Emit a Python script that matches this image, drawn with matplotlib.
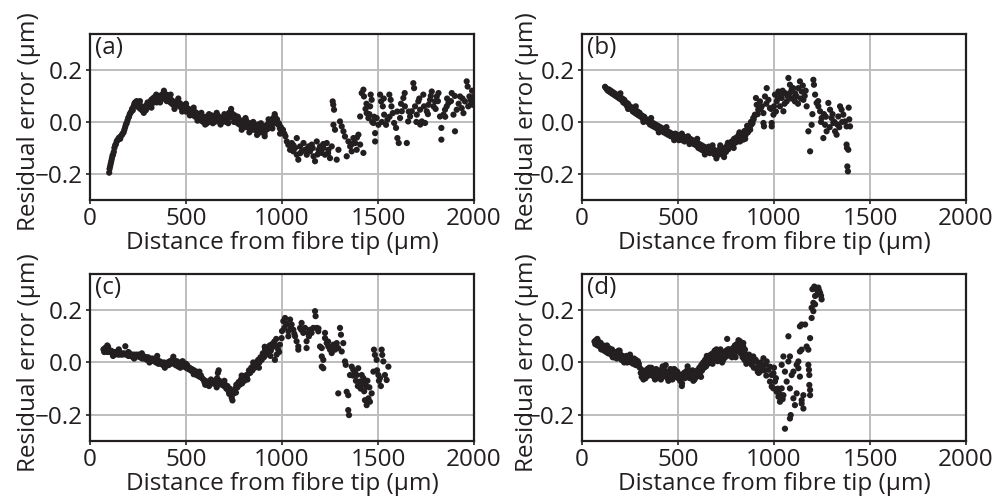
import numpy as np
import matplotlib
matplotlib.use("Agg")
import matplotlib.pyplot as plt

# residual error (um) vs distance from fibre tip (um)
pts_a = [
    (100, -0.195), (102, -0.18), (105, -0.17), (108, -0.16), (111, -0.15), (114, -0.14), (117, -0.13),
    (120, -0.125), (124, -0.115), (127, -0.10), (131, -0.09), (135, -0.085), (139, -0.075), (143, -0.07),
    (148, -0.065), (152, -0.06), (157, -0.065), (161, -0.055), (166, -0.05), (170, -0.045), (175, -0.04),
    (179, -0.03), (183, -0.02), (187, -0.01), (191, -0.005), (195, 0.005), (199, 0.015), (203, 0.02),
    (207, 0.03), (211, 0.035), (215, 0.04), (219, 0.05), (223, 0.045), (227, 0.06), (231, 0.07),
    (235, 0.075), (239, 0.065), (243, 0.08), (247, 0.06), (251, 0.07), (255, 0.055), (259, 0.065),
    (263, 0.05), (267, 0.06), (271, 0.045), (275, 0.055), (279, 0.04), (283, 0.05), (287, 0.06),
    (291, 0.045), (295, 0.065), (299, 0.055), (303, 0.07), (307, 0.06), (311, 0.075), (315, 0.065),
    (319, 0.085), (323, 0.07), (327, 0.09), (331, 0.08), (335, 0.095), (339, 0.08), (343, 0.09),
    (347, 0.075), (351, 0.095), (355, 0.085), (359, 0.10), (363, 0.085), (367, 0.10), (371, 0.09),
    (375, 0.105), (379, 0.095), (383, 0.11), (387, 0.095), (391, 0.10), (395, 0.085), (399, 0.105),
    (403, 0.09), (407, 0.095), (411, 0.08), (415, 0.09), (419, 0.075), (423, 0.085), (427, 0.07),
    (431, 0.08), (435, 0.065), (439, 0.075), (443, 0.06), (447, 0.07), (451, 0.065), (455, 0.08),
    (459, 0.07), (463, 0.075), (467, 0.06), (471, 0.07), (475, 0.055), (479, 0.065), (483, 0.05),
    (487, 0.06), (491, 0.045), (495, 0.055), (499, 0.04), (504, 0.055), (509, 0.04), (514, 0.05),
    (519, 0.035), (524, 0.045), (529, 0.03), (534, 0.045), (539, 0.025), (544, 0.04), (549, 0.02),
    (554, 0.035), (559, 0.015), (564, 0.03), (569, 0.01), (574, 0.025), (579, 0.005), (584, 0.02),
    (589, 0.0), (594, 0.015), (599, 0.005), (604, 0.02), (609, -0.005), (614, 0.015), (619, 0.0),
    (624, 0.02), (629, 0.005), (634, 0.025), (639, 0.01), (644, 0.02), (649, 0.0), (654, 0.02),
    (659, 0.005), (664, 0.025), (669, 0.01), (674, 0.02), (679, -0.005), (684, 0.015), (689, 0.0),
    (694, 0.015), (699, 0.005), (704, 0.02), (709, 0.0), (714, 0.025), (719, 0.01), (724, 0.035),
    (729, 0.02), (734, 0.04), (739, 0.025), (744, 0.03), (749, 0.015), (754, 0.025), (759, 0.005),
    (764, 0.02), (769, -0.005), (774, 0.01), (779, -0.01), (784, 0.005), (789, -0.015), (794, 0.005),
    (799, -0.01), (804, 0.0), (809, -0.02), (814, 0.005), (819, -0.015), (824, -0.005), (829, -0.025),
    (834, -0.005), (839, -0.02), (844, -0.01), (849, -0.03), (854, -0.01), (859, -0.025), (864, -0.015),
    (869, -0.035), (874, -0.01), (879, -0.03), (884, -0.02), (889, -0.04), (894, -0.02), (899, -0.035),
    (904, -0.025), (909, -0.045), (914, -0.015), (919, -0.03), (924, -0.01), (929, -0.025), (934, 0.0),
    (939, -0.015), (944, 0.005), (949, -0.01), (954, 0.015), (959, 0.0), (964, 0.02), (969, 0.005),
    (974, 0.01), (979, -0.01), (984, -0.005), (989, -0.025), (994, -0.02), (999, -0.04),
    (260, 0.08), (280, 0.035), (300, 0.075), (320, 0.055), (345, 0.105), (365, 0.075), (385, 0.12),
    (400, 0.08), (420, 0.105), (440, 0.05), (460, 0.09), (480, 0.04), (500, 0.07), (520, 0.025),
    (540, 0.055), (560, 0.005), (580, 0.035), (600, -0.01), (620, 0.03), (640, -0.005), (660, 0.035),
    (680, -0.01), (700, 0.03), (720, -0.005), (735, 0.05), (750, 0.0), (770, 0.02), (790, -0.03),
    (810, 0.015), (830, -0.04), (850, 0.0), (870, -0.05), (890, -0.005), (910, -0.055), (930, 0.01),
    (950, -0.025), (962, 0.03), (990, -0.045),
    (1005, -0.03), (1012, -0.045), (1018, -0.055), (1025, -0.075),
    (1033, -0.088), (1042, -0.107), (1051, -0.081), (1059, -0.113), (1068, -0.10), (1077, -0.062),
    (1077, -0.126), (1085, -0.145), (1094, -0.094), (1103, -0.113), (1112, -0.081), (1120, -0.107),
    (1129, -0.126), (1138, -0.094), (1146, -0.113), (1155, -0.087), (1164, -0.132), (1172, -0.151),
    (1181, -0.075), (1190, -0.107), (1198, -0.094), (1207, -0.119), (1216, -0.10), (1224, -0.126),
    (1233, -0.081), (1242, -0.107), (1250, -0.139), (1259, -0.094), (1264, 0.079), (1267, 0.066),
    (1271, 0.047), (1268, -0.011), (1276, -0.03), (1285, -0.145), (1294, -0.107), (1302, 0.002),
    (1311, -0.017), (1320, -0.036), (1328, -0.056), (1337, -0.132), (1346, -0.075), (1355, -0.094),
    (1363, -0.113), (1372, -0.062), (1381, -0.081), (1389, -0.107), (1398, -0.049), (1407, -0.087),
    (1424, -0.119), (1407, 0.021), (1415, 0.111), (1424, 0.124), (1427, 0.098), (1441, 0.034),
    (1450, 0.015), (1459, 0.06), (1462, 0.105), (1467, 0.085), (1476, -0.004), (1485, -0.043),
    (1485, -0.075), (1493, 0.015), (1502, -0.011), (1511, 0.105), (1516, 0.079), (1525, 0.06),
    (1532, 0.028), (1542, -0.011), (1549, 0.009), (1559, 0.105), (1566, 0.085), (1577, 0.034),
    (1584, -0.004), (1594, -0.023), (1601, -0.062), (1608, -0.081), (1615, 0.015), (1624, 0.041),
    (1632, 0.092), (1639, 0.111), (1650, -0.081), (1657, 0.002), (1667, 0.021), (1676, 0.041),
    (1684, 0.149), (1688, 0.13), (1693, 0.06), (1702, 0.028), (1710, 0.079), (1719, 0.047),
    (1728, 0.002), (1736, 0.105), (1745, -0.004), (1754, 0.041), (1763, 0.066), (1771, 0.085),
    (1780, 0.117), (1789, 0.06), (1797, 0.079), (1806, 0.098), (1815, 0.111), (1823, 0.021),
    (1830, -0.023), (1830, -0.068), (1841, 0.028), (1849, 0.047), (1858, 0.06), (1867, 0.073),
    (1884, 0.111), (1893, 0.028), (1901, -0.036), (1910, 0.047), (1927, 0.098), (1936, 0.053),
    (1945, 0.034), (1953, 0.079), (1962, 0.156), (1967, 0.136), (1976, 0.098), (1983, 0.085),
    (1993, 0.066), (1999, 0.098), (1520, 0.0), (1560, 0.02), (1600, 0.04), (1640, 0.06),
    (1700, 0.0), (1720, -0.01), (1760, 0.03), (1800, 0.05), (1850, 0.02), (1880, 0.08),
    (1920, 0.07), (1970, 0.06), (1990, 0.12), (1440, 0.07), (1455, 0.03), (1470, 0.0),
    (1060, -0.09), (1095, -0.12), (1130, -0.105), (1160, -0.1), (1185, -0.125), (1215, -0.085),
    (1240, -0.12), (1365, -0.085), (1390, -0.06), (1435, 0.05), (1480, 0.02), (1530, 0.09),
    (1570, 0.06), (1620, 0.07), (1660, 0.04), (1715, 0.09), (1740, 0.06), (1775, 0.1), (1812, 0.08),
    (1860, 0.09), (1900, 0.1), (1940, 0.09), (1985, 0.07),
]

pts_b = [
    (120, 0.135), (125, 0.13), (130, 0.125), (135, 0.12), (140, 0.125), (145, 0.115), (150, 0.12),
    (155, 0.11), (160, 0.115), (165, 0.105), (170, 0.11), (175, 0.10), (180, 0.105), (185, 0.095),
    (190, 0.10), (195, 0.09), (200, 0.095), (205, 0.085), (210, 0.09), (215, 0.075), (220, 0.085),
    (225, 0.07), (230, 0.075), (235, 0.06), (240, 0.07), (245, 0.055), (250, 0.06), (255, 0.05),
    (260, 0.055), (265, 0.04), (270, 0.05), (275, 0.035), (280, 0.045), (285, 0.03), (290, 0.04),
    (295, 0.025), (300, 0.035), (306, 0.02), (312, 0.025), (318, 0.01), (324, 0.02), (330, 0.005),
    (336, 0.01), (342, 0.0), (348, 0.005), (354, -0.01), (360, 0.0), (366, -0.015), (372, -0.005),
    (378, -0.02), (384, -0.01), (390, -0.025), (396, -0.015), (402, -0.03), (408, -0.02), (414, -0.035),
    (420, -0.025), (426, -0.04), (432, -0.03), (438, -0.045), (444, -0.035), (450, -0.05), (456, -0.04),
    (462, -0.055), (468, -0.045), (474, -0.05), (480, -0.06), (486, -0.045), (492, -0.065), (498, -0.05),
    (504, -0.07), (510, -0.055), (516, -0.06), (522, -0.07), (528, -0.055), (534, -0.075), (540, -0.06),
    (546, -0.07), (552, -0.055), (558, -0.075), (564, -0.065), (570, -0.08), (576, -0.07), (582, -0.085),
    (588, -0.075), (594, -0.09), (600, -0.08), (606, -0.10), (612, -0.085), (618, -0.105), (624, -0.09),
    (630, -0.11), (636, -0.095), (642, -0.115), (648, -0.10), (654, -0.11), (660, -0.095), (666, -0.12),
    (672, -0.10), (678, -0.115), (684, -0.105), (690, -0.125), (696, -0.11), (702, -0.13), (708, -0.115),
    (714, -0.125), (720, -0.10), (726, -0.12), (732, -0.11), (738, -0.125), (744, -0.10), (750, -0.115),
    (756, -0.09), (762, -0.105), (768, -0.085), (774, -0.095), (780, -0.075), (786, -0.09), (792, -0.065),
    (798, -0.08), (804, -0.06), (810, -0.075), (816, -0.05), (822, -0.07), (828, -0.055), (834, -0.045),
    (840, -0.06), (846, -0.035), (852, -0.05), (858, -0.03), (864, -0.04), (870, -0.02), (876, -0.03),
    (882, -0.01), (888, -0.005), (894, 0.01), (900, 0.025),
    (200, 0.11), (240, 0.05), (280, 0.06), (320, 0.0), (360, 0.015), (400, -0.04), (440, -0.02),
    (480, -0.07), (520, -0.045), (560, -0.085), (600, -0.065), (640, -0.125), (680, -0.09),
    (700, -0.14), (720, -0.09), (740, -0.135), (760, -0.08), (790, -0.1), (820, -0.04), (850, -0.065),
    (880, 0.0), (860, -0.015),
    (823, -0.075), (832, -0.055), (840, -0.068), (849, -0.049), (858, -0.036), (866, -0.023),
    (875, -0.017), (884, -0.004), (892, 0.015), (901, 0.028), (906, 0.092), (910, 0.066),
    (918, 0.047), (927, 0.079), (936, 0.06), (945, 0.034), (945, -0.004), (948, -0.017),
    (953, 0.098), (962, 0.13), (971, 0.085), (979, 0.053), (988, -0.004), (988, -0.017),
    (997, 0.028), (1005, 0.105), (1014, 0.079), (1023, 0.117), (1031, 0.06), (1040, 0.092),
    (1049, 0.041), (1057, 0.111), (1066, 0.079), (1075, 0.169), (1083, 0.143), (1092, 0.124),
    (1101, 0.092), (1109, 0.079), (1118, 0.098), (1127, 0.13), (1135, 0.156), (1144, 0.117),
    (1153, 0.085), (1170, 0.06), (1179, -0.036), (1188, -0.113), (1196, -0.011), (1205, 0.162),
    (1208, 0.143), (1214, 0.105), (1222, 0.073), (1231, 0.06), (1240, 0.041), (1248, 0.015),
    (1257, -0.062), (1266, -0.011), (1274, -0.036), (1283, 0.073), (1292, 0.047), (1300, 0.015),
    (1309, -0.004), (1318, -0.036), (1326, -0.049), (1335, 0.021), (1344, 0.06), (1352, 0.047),
    (1361, 0.028), (1370, 0.002), (1378, -0.017), (1378, -0.087), (1387, -0.107), (1382, -0.171),
    (1385, -0.19), (1396, -0.017), (1389, 0.055), (1392, 0.01), (1380, -0.1),
    (915, 0.03), (930, 0.05), (960, 0.07), (985, 0.05), (1000, 0.06), (1010, 0.04), (1035, 0.1),
    (1055, 0.07), (1070, 0.1), (1090, 0.09), (1110, 0.11), (1125, 0.07), (1150, 0.14), (1160, 0.1),
    (1200, 0.03), (1230, 0.08), (1260, 0.03), (1290, -0.02), (1315, 0.0), (1340, -0.02),
    (1020, 0.09), (1045, 0.12), (1080, 0.11), (1100, 0.13), (1140, 0.09), (1165, 0.12), (1245, 0.0),
    (1270, 0.02), (1305, 0.03), (1330, -0.01), (1355, 0.0),
]

pts_c = [
    (70, 0.05), (74, 0.04), (78, 0.055), (82, 0.045), (86, 0.05), (90, 0.04), (94, 0.06), (98, 0.045),
    (104, 0.04), (110, 0.045), (116, 0.035), (122, 0.04), (128, 0.03), (134, 0.04), (140, 0.035),
    (146, 0.03), (152, 0.04), (158, 0.03), (164, 0.035), (170, 0.03), (176, 0.035), (184, 0.062),
    (188, 0.03), (194, 0.035), (200, 0.025), (206, 0.035), (212, 0.025), (218, 0.03), (224, 0.02),
    (230, 0.03), (236, 0.02), (242, 0.03), (248, 0.025), (254, 0.03), (260, 0.02), (266, 0.025),
    (272, 0.015), (278, 0.025), (284, 0.015), (290, 0.02), (296, 0.01), (302, 0.02), (308, 0.005),
    (314, 0.015), (320, 0.01), (326, 0.015), (332, 0.005), (338, 0.01), (344, 0.0), (350, 0.01),
    (356, -0.005), (362, 0.005), (368, -0.005), (374, 0.0), (380, -0.01), (386, 0.0), (392, -0.005),
    (398, -0.01), (404, 0.0), (410, -0.01), (416, 0.005), (422, -0.005), (428, 0.01), (434, 0.022),
    (440, -0.005), (446, -0.01), (452, 0.005), (458, -0.015), (464, -0.005), (470, 0.0), (476, -0.01),
    (482, 0.005), (488, -0.015), (494, -0.005), (500, -0.02), (506, -0.01), (512, -0.025), (518, -0.02),
    (524, -0.03), (530, -0.025), (536, -0.035), (542, -0.03), (548, -0.045), (554, -0.035), (560, -0.05),
    (566, -0.04), (572, -0.055), (578, -0.05), (584, -0.06), (590, -0.065), (596, -0.075), (602, -0.07),
    (608, -0.085), (614, -0.075), (620, -0.09), (626, -0.075), (632, -0.08), (638, -0.07), (644, -0.08),
    (650, -0.075), (656, -0.085), (662, -0.06), (666, -0.04), (670, -0.03), (674, -0.07), (680, -0.08),
    (686, -0.085), (692, -0.075), (698, -0.09), (704, -0.085), (710, -0.10), (716, -0.09), (722, -0.11),
    (728, -0.10), (734, -0.12), (738, -0.135), (742, -0.145), (746, -0.12), (750, -0.11), (756, -0.10),
    (762, -0.085), (768, -0.095), (774, -0.075), (780, -0.085), (786, -0.065), (792, -0.08), (798, -0.06),
    (804, -0.07), (810, -0.05), (816, -0.06), (822, -0.045), (828, -0.03), (834, -0.04), (840, -0.02),
    (846, -0.03), (852, -0.01), (858, -0.02), (864, 0.0), (870, -0.01), (876, 0.01), (882, 0.0),
    (888, 0.02), (894, 0.01), (900, 0.035), (906, 0.02), (912, 0.05), (918, 0.03), (924, 0.055),
    (930, 0.04), (936, 0.065), (942, 0.045), (948, 0.07), (954, 0.06), (960, 0.08), (966, 0.065),
    (90, 0.065), (120, 0.025), (150, 0.05), (200, 0.04), (230, 0.015), (270, 0.035), (310, 0.0),
    (350, 0.025), (390, -0.02), (430, 0.0), (470, -0.02), (500, -0.005), (540, -0.045), (570, -0.035),
    (600, -0.085), (630, -0.065), (660, -0.095), (700, -0.07), (725, -0.12), (760, -0.115), (790, -0.05),
    (820, -0.065), (850, 0.0), (880, -0.02), (910, 0.06), (940, 0.025), (970, 0.09), (985, 0.04),
    (963, 0.01), (972, 0.03), (980, 0.049), (989, 0.068), (998, 0.093),
    (1007, 0.158), (1012, 0.132), (1016, 0.17), (1024, 0.145), (1033, 0.119), (1033, 0.10),
    (1042, 0.164), (1050, 0.145), (1059, 0.125), (1068, 0.10), (1076, 0.081), (1085, 0.061),
    (1085, 0.049), (1094, 0.132), (1102, 0.151), (1111, 0.113), (1120, 0.132), (1128, 0.081),
    (1128, 0.055), (1137, 0.113), (1146, 0.125), (1154, 0.113), (1163, 0.132), (1172, 0.196),
    (1175, 0.177), (1180, 0.132), (1189, 0.119), (1198, 0.061), (1207, 0.055), (1207, 0.023),
    (1215, 0.01), (1207, -0.016), (1215, -0.022), (1224, 0.113), (1224, 0.093), (1233, 0.074),
    (1241, 0.061), (1250, 0.049), (1259, 0.036), (1267, 0.068), (1276, 0.049), (1285, 0.074),
    (1293, 0.055), (1302, 0.132), (1307, 0.106), (1311, 0.042), (1319, 0.074), (1328, 0.004),
    (1332, -0.009), (1293, -0.118), (1337, -0.112), (1345, -0.125), (1345, -0.182), (1349, -0.201),
    (1354, -0.048), (1363, -0.016), (1371, -0.028), (1380, -0.035), (1389, -0.048), (1397, -0.022),
    (1406, -0.073), (1415, -0.048), (1424, -0.06), (1432, -0.08), (1441, -0.092), (1432, -0.144),
    (1441, -0.163), (1450, -0.137), (1458, -0.15), (1467, -0.118), (1476, -0.035), (1479, 0.049),
    (1484, 0.029), (1493, 0.01), (1502, -0.048), (1510, -0.06), (1519, 0.049), (1522, 0.029),
    (1528, 0.004), (1536, -0.048), (1545, -0.067), (1554, -0.016),
    (1000, 0.12), (1020, 0.15), (1045, 0.13), (1064, 0.11), (1100, 0.125), (1140, 0.1), (1190, 0.13),
    (1240, 0.08), (1262, 0.06), (1370, -0.05), (1385, -0.07), (1395, -0.09), (1410, -0.1),
    (1420, -0.085), (1428, -0.11), (1445, -0.07), (1455, -0.095), (1495, -0.03), (1505, -0.07),
    (1515, -0.09),
]

pts_d = [
    (65, 0.08), (69, 0.07), (73, 0.085), (77, 0.075), (81, 0.065), (85, 0.08), (89, 0.07), (93, 0.06),
    (97, 0.075), (101, 0.06), (106, 0.05), (111, 0.065), (116, 0.045), (121, 0.055), (126, 0.04),
    (131, 0.05), (136, 0.035), (141, 0.055), (146, 0.04), (151, 0.03), (156, 0.05), (161, 0.035),
    (166, 0.02), (171, 0.04), (176, 0.025), (181, 0.015), (186, 0.035), (191, 0.02), (196, 0.045),
    (201, 0.03), (206, 0.01), (211, 0.025), (216, 0.005), (221, 0.02), (226, 0.01), (231, 0.025),
    (236, 0.0), (241, 0.015), (246, 0.005), (251, 0.02), (256, 0.0), (261, 0.01), (266, -0.005),
    (271, 0.015), (276, 0.005), (281, 0.01), (286, -0.01), (291, 0.005), (296, -0.005), (301, -0.02),
    (306, -0.04), (311, -0.055), (316, -0.03), (321, -0.05), (326, -0.035), (331, -0.06), (336, -0.04),
    (341, -0.025), (346, -0.05), (351, -0.035), (356, -0.045), (361, -0.02), (366, -0.05), (371, -0.03),
    (376, -0.055), (381, -0.04), (386, -0.025), (391, -0.06), (396, -0.035), (401, -0.05), (406, -0.03),
    (411, -0.065), (416, -0.04), (421, -0.055), (426, -0.02), (431, -0.045), (436, -0.01), (441, -0.035),
    (446, -0.06), (451, -0.04), (456, -0.05), (461, -0.025), (466, -0.045), (471, -0.065), (476, -0.04),
    (481, -0.055), (486, -0.03), (491, -0.05), (496, -0.035), (501, -0.06), (506, -0.045), (511, -0.07),
    (516, -0.05), (521, -0.08), (526, -0.055), (531, -0.04), (536, -0.06), (541, -0.035), (546, -0.05),
    (551, -0.025), (556, -0.045), (561, -0.06), (566, -0.04), (571, -0.055), (576, -0.03), (581, -0.05),
    (586, -0.065), (591, -0.04), (596, -0.055), (601, -0.03), (606, -0.045), (611, -0.02), (616, -0.04),
    (621, -0.01), (626, -0.03), (631, 0.0), (636, -0.02), (641, 0.01), (646, -0.015), (651, 0.015),
    (656, -0.005), (661, 0.025), (666, 0.0), (671, 0.03), (676, 0.01), (681, 0.035), (686, 0.015),
    (691, 0.045), (696, 0.02), (701, 0.03), (706, 0.005), (711, 0.04), (716, 0.015), (721, 0.05),
    (726, 0.025), (731, 0.04), (736, 0.01), (741, 0.035), (746, 0.02), (751, 0.045), (756, 0.09),
    (761, 0.03), (766, 0.05), (771, 0.025), (776, 0.045), (781, 0.02), (786, 0.055), (791, 0.035),
    (796, 0.065), (801, 0.04), (806, 0.07), (811, 0.05), (816, 0.075), (821, 0.055), (826, 0.035),
    (831, 0.05), (836, 0.02), (841, 0.04), (846, 0.01), (851, 0.03), (856, -0.005),
    (80, 0.09), (100, 0.05), (130, 0.065), (160, 0.02), (190, 0.045), (220, 0.0), (250, 0.03),
    (280, -0.01), (320, -0.065), (350, -0.02), (380, -0.065), (420, -0.015), (450, -0.07),
    (480, -0.025), (520, -0.09), (550, -0.015), (580, -0.07), (620, -0.055), (650, 0.025),
    (680, -0.005), (700, 0.05), (730, 0.0), (760, 0.05), (800, 0.02), (815, 0.085), (840, 0.06),
    (860, 0.02), (890, 0.02), (915, -0.035),
    (823, 0.081), (832, 0.061), (840, 0.074), (849, 0.049), (858, 0.029), (866, 0.01), (875, 0.016),
    (884, -0.009), (892, 0.023), (901, 0.004), (910, -0.022), (918, -0.003), (927, -0.035), (936, -0.016),
    (945, 0.016), (953, -0.009), (962, 0.004), (971, -0.028), (979, -0.016), (988, -0.048), (997, -0.041),
    (979, -0.073), (988, -0.092), (997, -0.099), (1005, -0.073), (1014, -0.112), (1023, -0.131),
    (1031, -0.15), (1040, -0.099), (1049, -0.125), (1040, -0.009), (1049, 0.023), (1057, -0.035),
    (1066, -0.073), (1075, 0.004), (1083, -0.099), (1092, -0.048), (1101, -0.137), (1109, -0.163),
    (1118, -0.118), (1127, -0.022), (1135, -0.054), (1144, -0.157), (1153, -0.125), (1153, -0.176),
    (1144, -0.144), (1075, 0.10), (1083, -0.214), (1087, -0.201), (1057, -0.253), (1083, 0.023),
    (1101, -0.035), (1118, -0.009), (1127, 0.004), (1135, 0.042), (1144, 0.049), (1135, 0.138),
    (1144, 0.145), (1162, 0.145), (1170, 0.061), (1179, 0.049), (1179, -0.009), (1182, -0.028),
    (1184, -0.048), (1184, -0.086), (1188, -0.105), (1188, -0.125), (1188, 0.093), (1196, 0.209),
    (1205, 0.228), (1214, 0.254), (1222, 0.279), (1231, 0.286), (1240, 0.266), (1248, 0.241),
    (1196, 0.17), (1205, 0.196), (1214, 0.222), (1200, 0.28), (1210, 0.29), (1225, 0.26),
    (1245, 0.255), (1235, 0.275),
    (870, 0.03), (880, 0.0), (895, -0.02), (905, 0.01), (920, -0.04), (930, 0.0), (950, -0.03),
    (960, -0.05), (1000, -0.02), (1010, -0.06), (1020, -0.1), (1030, -0.12), (1045, -0.14),
]

panel_labels = ["(a)", "(b)", "(c)", "(d)"]
x_ticks = [0, 500, 1000, 1500, 2000]
y_ticks = [-0.2, 0.0, 0.2]

ink = "#231f20"
plt.rcParams['font.family'] = ['Open Sans', 'DejaVu Sans']

fig = plt.figure(figsize=(10.07, 5.01), dpi=100)

W, H = 1007.0, 501.0
boxes = [(90, 34, 474, 200), (582, 34, 966, 200), (90, 274, 474, 441), (582, 274, 966, 441)]
ylab_x = [-0.128, -0.112, -0.128, -0.112]
fs = 17.5

for i, pts in enumerate([pts_a, pts_b, pts_c, pts_d]):
    l, t, r, b = boxes[i]
    ax = fig.add_axes([l / W, 1 - b / H, (r - l) / W, (b - t) / H])
    arr = np.array(pts)
    ax.scatter(arr[:, 0], arr[:, 1], s=20, color=ink, edgecolors="none", zorder=3)
    ax.set_xlim(0, 2000)
    ax.set_ylim(-0.3, 0.338)
    ax.set_xticks(x_ticks)
    ax.set_yticks(y_ticks)
    ax.set_xticklabels([str(v) for v in x_ticks])
    ax.set_yticklabels(["\u22120.2", "0.0", "0.2"])
    ax.grid(True, color="#bdbdbd", linewidth=1.4, zorder=0)
    ax.set_axisbelow(True)
    for sp in ax.spines.values():
        sp.set_linewidth(1.6)
        sp.set_color(ink)
    ax.tick_params(direction="out", length=3, width=1.2, labelsize=fs, pad=2, colors=ink)
    ax.set_xlabel("Distance from fibre tip (\u00b5m)", fontsize=fs, color=ink, labelpad=0)
    ax.set_ylabel("Residual error (\u00b5m)", fontsize=fs, color=ink)
    ax.yaxis.set_label_coords(ylab_x[i], 0.47)
    ax.text(0.012, 0.99, panel_labels[i], transform=ax.transAxes, fontsize=fs,
            va="top", ha="left", color=ink)

fig.savefig("out.png", dpi=100)
